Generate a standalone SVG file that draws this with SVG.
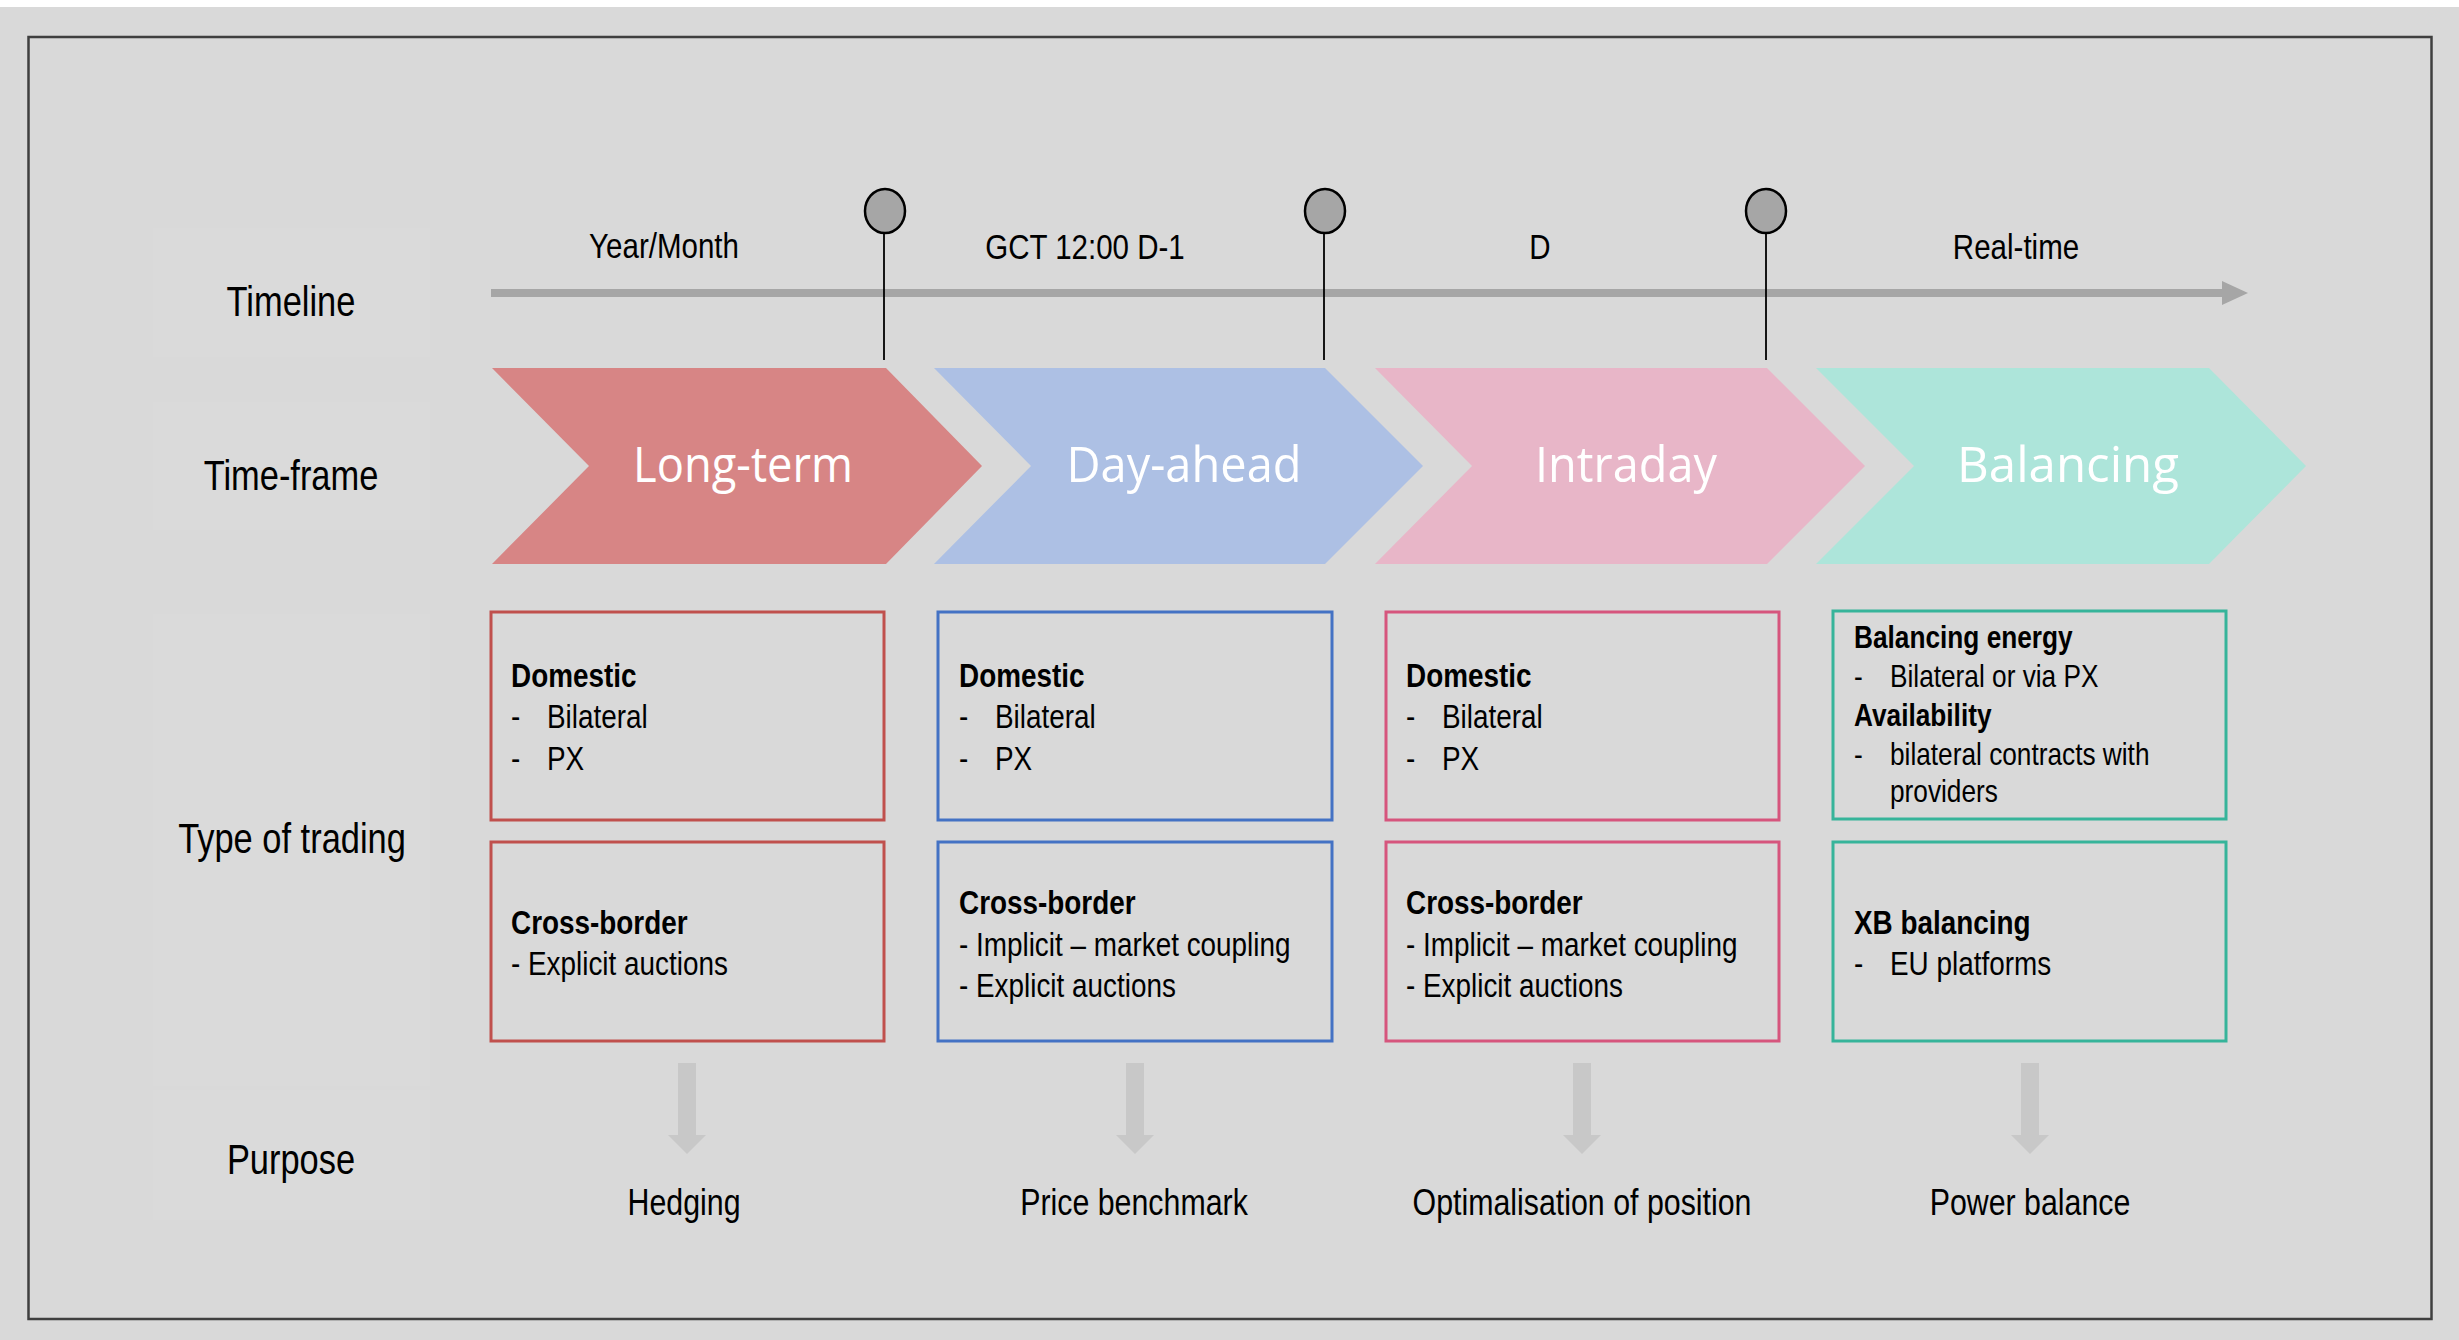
<svg xmlns="http://www.w3.org/2000/svg" width="2459" height="1340" viewBox="0 0 2459 1340">
<style>
.lbl{font-family:"Liberation Sans","Arial",sans-serif;fill:#000;}
.side{font-size:42px;text-anchor:middle;}
.tl{font-size:36px;text-anchor:middle;}
.pur{font-size:37px;text-anchor:middle;}
.bx{font-size:34px;}
.bx4{font-size:32px;}
.b{font-weight:bold;}
.chev{font-family:"Open Sans","Noto Sans",sans-serif;font-size:50px;fill:#fff;text-anchor:middle;}
.box{fill:none;stroke-width:3;}
.lblbg{fill:#dadada;}
.pin{fill:#a6a6a6;stroke:#000;stroke-width:2.5;}
.pinline{stroke:#000;stroke-width:1.8;}
.down{fill:#c8c8c8;}
</style>
<rect x="0" y="0" width="2459" height="1340" fill="#ffffff"/>
<rect x="0" y="7" width="2459" height="1333" fill="#d9d9d9"/>
<rect x="28.5" y="37" width="2403" height="1282" fill="none" stroke="#3f3f3f" stroke-width="2.5"/>

<g id="label-timeline">
<rect class="lblbg" x="153" y="228" width="277" height="129"/>
<text class="lbl side" transform="matrix(0.82 0 0 1 291 316)">Timeline</text>
</g>
<g id="label-timeframe">
<rect class="lblbg" x="153" y="402" width="277" height="128"/>
<text class="lbl side" transform="matrix(0.82 0 0 1 291 490)">Time-frame</text>
</g>
<g id="label-type">
<rect class="lblbg" x="153" y="614" width="277" height="472"/>
<text class="lbl side" transform="matrix(0.82 0 0 1 292 853)">Type of trading</text>
</g>
<g id="label-purpose">
<rect class="lblbg" x="153" y="1090" width="277" height="130"/>
<text class="lbl side" transform="matrix(0.82 0 0 1 291 1174)">Purpose</text>
</g>

<g id="timeline">
<rect x="491" y="289" width="1733" height="8" fill="#a6a6a6"/>
<polygon points="2222,281 2248,293 2222,305" fill="#a6a6a6"/>
<text class="lbl tl" transform="matrix(0.82 0 0 1 664 258)">Year/Month</text>
<text class="lbl tl" transform="matrix(0.82 0 0 1 1085 259)">GCT 12:00 D-1</text>
<text class="lbl tl" transform="matrix(0.82 0 0 1 1540 259)">D</text>
<text class="lbl tl" transform="matrix(0.82 0 0 1 2016 259)">Real-time</text>
</g>

<g id="milestones">
<line class="pinline" x1="884" y1="233" x2="884" y2="360"/>
<ellipse class="pin" cx="885" cy="211" rx="20" ry="22"/>
<line class="pinline" x1="1324" y1="233" x2="1324" y2="360"/>
<ellipse class="pin" cx="1325" cy="211" rx="20" ry="22"/>
<line class="pinline" x1="1766" y1="233" x2="1766" y2="360"/>
<ellipse class="pin" cx="1766" cy="211" rx="20" ry="22"/>
</g>

<g id="chevron-longterm">
<polygon points="492,368 886,368 982,466 886,564 492,564 589,466" fill="#d78585"/>
<text class="chev" x="743" y="482" textLength="220" lengthAdjust="spacingAndGlyphs">Long-term</text>
</g>
<g id="chevron-dayahead">
<polygon points="934,368 1325,368 1423,466 1325,564 934,564 1031,466" fill="#adc0e4"/>
<text class="chev" x="1184" y="482" textLength="235" lengthAdjust="spacingAndGlyphs">Day-ahead</text>
</g>
<g id="chevron-intraday">
<polygon points="1375,368 1767,368 1865,466 1767,564 1375,564 1472,466" fill="#e8b6c8"/>
<text class="chev" x="1626" y="482" textLength="182" lengthAdjust="spacingAndGlyphs">Intraday</text>
</g>
<g id="chevron-balancing">
<polygon points="1816,368 2209,368 2306,466 2209,564 1816,564 1914,466" fill="#ade5da"/>
<text class="chev" x="2068" y="482" textLength="222" lengthAdjust="spacingAndGlyphs">Balancing</text>
</g>

<g id="box-lt-domestic">
<rect class="box" x="491" y="612" width="393" height="208" stroke="#c0504d"/>
<text class="lbl bx b" transform="matrix(0.82 0 0 1 511 687)">Domestic</text>
<text class="lbl bx" transform="matrix(0.82 0 0 1 511 728)">-</text><text class="lbl bx" transform="matrix(0.82 0 0 1 547 728)">Bilateral</text>
<text class="lbl bx" transform="matrix(0.82 0 0 1 511 770)">-</text><text class="lbl bx" transform="matrix(0.82 0 0 1 547 770)">PX</text>
</g>
<g id="box-lt-xb">
<rect class="box" x="491" y="842" width="393" height="199" stroke="#c0504d"/>
<text class="lbl bx b" transform="matrix(0.82 0 0 1 511 934)">Cross-border</text>
<text class="lbl bx" transform="matrix(0.82 0 0 1 511 975)">- Explicit auctions</text>
</g>

<g id="box-da-domestic">
<rect class="box" x="938" y="612" width="394" height="208" stroke="#4472c4"/>
<text class="lbl bx b" transform="matrix(0.82 0 0 1 959 687)">Domestic</text>
<text class="lbl bx" transform="matrix(0.82 0 0 1 959 728)">-</text><text class="lbl bx" transform="matrix(0.82 0 0 1 995 728)">Bilateral</text>
<text class="lbl bx" transform="matrix(0.82 0 0 1 959 770)">-</text><text class="lbl bx" transform="matrix(0.82 0 0 1 995 770)">PX</text>
</g>
<g id="box-da-xb">
<rect class="box" x="938" y="842" width="394" height="199" stroke="#4472c4"/>
<text class="lbl bx b" transform="matrix(0.82 0 0 1 959 914)">Cross-border</text>
<text class="lbl bx" transform="matrix(0.82 0 0 1 959 956)">- Implicit – market coupling</text>
<text class="lbl bx" transform="matrix(0.82 0 0 1 959 997)">- Explicit auctions</text>
</g>

<g id="box-id-domestic">
<rect class="box" x="1386" y="612" width="393" height="208" stroke="#d6557d"/>
<text class="lbl bx b" transform="matrix(0.82 0 0 1 1406 687)">Domestic</text>
<text class="lbl bx" transform="matrix(0.82 0 0 1 1406 728)">-</text><text class="lbl bx" transform="matrix(0.82 0 0 1 1442 728)">Bilateral</text>
<text class="lbl bx" transform="matrix(0.82 0 0 1 1406 770)">-</text><text class="lbl bx" transform="matrix(0.82 0 0 1 1442 770)">PX</text>
</g>
<g id="box-id-xb">
<rect class="box" x="1386" y="842" width="393" height="199" stroke="#d6557d"/>
<text class="lbl bx b" transform="matrix(0.82 0 0 1 1406 914)">Cross-border</text>
<text class="lbl bx" transform="matrix(0.82 0 0 1 1406 956)">- Implicit – market coupling</text>
<text class="lbl bx" transform="matrix(0.82 0 0 1 1406 997)">- Explicit auctions</text>
</g>

<g id="box-bal-domestic">
<rect class="box" x="1833" y="611" width="393" height="208" stroke="#36b49a"/>
<text class="lbl bx4 b" transform="matrix(0.82 0 0 1 1854 648)">Balancing energy</text>
<text class="lbl bx4" transform="matrix(0.82 0 0 1 1854 687)">-</text><text class="lbl bx4" transform="matrix(0.82 0 0 1 1890 687)">Bilateral or via PX</text>
<text class="lbl bx4 b" transform="matrix(0.82 0 0 1 1854 726)">Availability</text>
<text class="lbl bx4" transform="matrix(0.82 0 0 1 1854 765)">-</text><text class="lbl bx4" transform="matrix(0.82 0 0 1 1890 765)">bilateral contracts with</text>
<text class="lbl bx4" transform="matrix(0.82 0 0 1 1890 802)">providers</text>
</g>
<g id="box-bal-xb">
<rect class="box" x="1833" y="842" width="393" height="199" stroke="#36b49a"/>
<text class="lbl bx b" transform="matrix(0.82 0 0 1 1854 934)">XB balancing</text>
<text class="lbl bx" transform="matrix(0.82 0 0 1 1854 975)">-</text><text class="lbl bx" transform="matrix(0.82 0 0 1 1890 975)">EU platforms</text>
</g>

<g id="connectors">
<polygon class="down" points="678,1063 696,1063 696,1135 706,1135 687,1154 668,1135 678,1135"/>
<polygon class="down" points="1126,1063 1144,1063 1144,1135 1154,1135 1135,1154 1116,1135 1126,1135"/>
<polygon class="down" points="1573,1063 1591,1063 1591,1135 1601,1135 1582,1154 1563,1135 1573,1135"/>
<polygon class="down" points="2021,1063 2039,1063 2039,1135 2049,1135 2030,1154 2011,1135 2021,1135"/>
</g>

<g id="purpose-texts">
<text class="lbl pur" transform="matrix(0.82 0 0 1 684 1215)">Hedging</text>
<text class="lbl pur" transform="matrix(0.82 0 0 1 1134 1215)">Price benchmark</text>
<text class="lbl pur" transform="matrix(0.82 0 0 1 1582 1215)">Optimalisation of position</text>
<text class="lbl pur" transform="matrix(0.82 0 0 1 2030 1215)">Power balance</text>
</g>
</svg>
